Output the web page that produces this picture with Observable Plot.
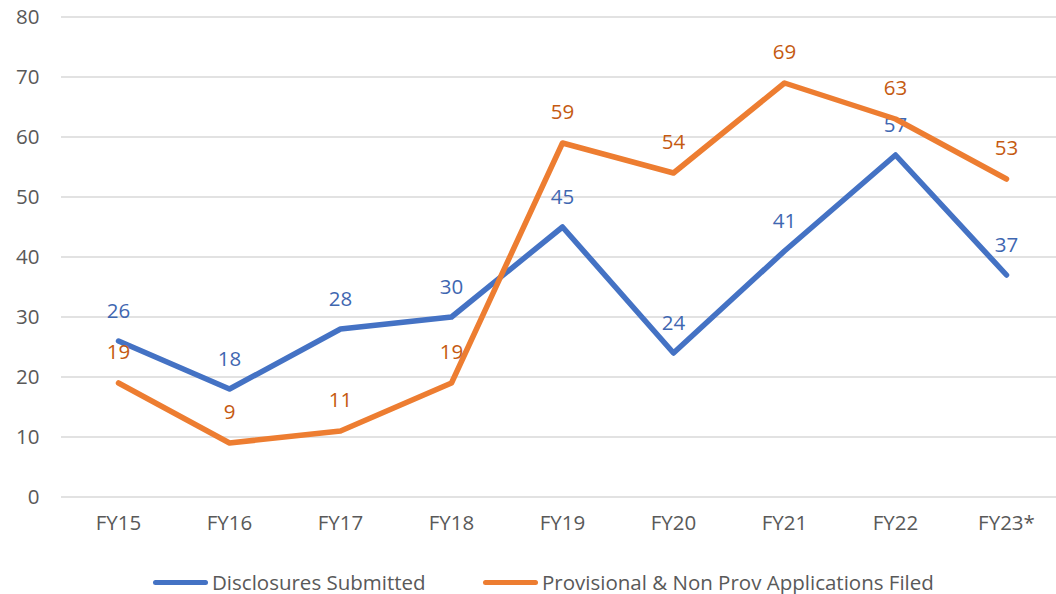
<!DOCTYPE html>
<html>
<head>
<meta charset="utf-8">
<script src="https://cdn.jsdelivr.net/npm/d3@7"></script>
<script src="https://cdn.jsdelivr.net/npm/@observablehq/plot@0.6"></script>
<style>
  body { margin: 0; background: #fff; font-family: "Open Sans", sans-serif; }
  #chart svg { display: block; }
  #legend { position: relative; width: 1056px; height: 44px; font-size: 20.5px; color: #595959; }
  .item { position: absolute; top: 17px; display: flex; align-items: center; white-space: nowrap; height: 30px; }
  .swatch { width: 55px; height: 5px; border-radius: 3px; margin-right: 4px; }
</style>
</head>
<body>
<div id="chart"></div>
<div id="legend"></div>
<script>
const years = ["FY15", "FY16", "FY17", "FY18", "FY19", "FY20", "FY21", "FY22", "FY23*"];
const disclosures = [26, 18, 28, 30, 45, 24, 41, 57, 37];
const applications = [19, 9, 11, 19, 59, 54, 69, 63, 53];
const yTicks = [0, 10, 20, 30, 40, 50, 60, 70, 80];
const seriesNames = ["Disclosures Submitted", "Provisional & Non Prov Applications Filed"];
const lineColors = ["#4472C4", "#ED7D31"];
const labelColors = ["#3F67B1", "#C55A11"];

const blue = years.map((y, i) => ({ year: y, value: disclosures[i] }));
const orange = years.map((y, i) => ({ year: y, value: applications[i] }));

const chart = Plot.plot({
  width: 1056,
  height: 550,
  marginTop: 16.5,
  marginBottom: 53.5,
  marginLeft: 61,
  marginRight: 0,
  style: { fontFamily: "Open Sans, sans-serif", fontSize: "20.5px", color: "#595959", background: "#fff" },
  x: { type: "point", domain: years, range: [116, 1008], padding: 0 },
  y: { domain: [0, 80] },
  marks: [
    Plot.ruleY(yTicks, { stroke: "#d9d9d9", strokeWidth: 1.5 }),
    Plot.axisY({ ticks: yTicks, tickSize: 0, tickPadding: 22, label: null }),
    Plot.axisX({ tickSize: 0, tickPadding: 18, label: null }),
    Plot.line(blue, { x: "year", y: "value", stroke: lineColors[0], strokeWidth: 5.5, strokeLinecap: "round", strokeLinejoin: "round" }),
    Plot.text(blue, { x: "year", y: "value", text: d => String(d.value), dy: -30, fill: labelColors[0], fontSize: 20.5 }),
    Plot.line(orange, { x: "year", y: "value", stroke: lineColors[1], strokeWidth: 5.5, strokeLinecap: "round", strokeLinejoin: "round" }),
    Plot.text(orange, { x: "year", y: "value", text: d => String(d.value), dy: -31, fill: labelColors[1], fontSize: 20.5 })
  ]
});
document.getElementById("chart").appendChild(chart);

const legend = document.getElementById("legend");
const lefts = [153, 483];
seriesNames.forEach((name, i) => {
  const item = document.createElement("div");
  item.className = "item";
  item.style.left = lefts[i] + "px";
  const sw = document.createElement("div");
  sw.className = "swatch";
  sw.style.background = lineColors[i];
  const tx = document.createElement("span");
  tx.textContent = name;
  item.appendChild(sw);
  item.appendChild(tx);
  legend.appendChild(item);
});
</script>
</body>
</html>
